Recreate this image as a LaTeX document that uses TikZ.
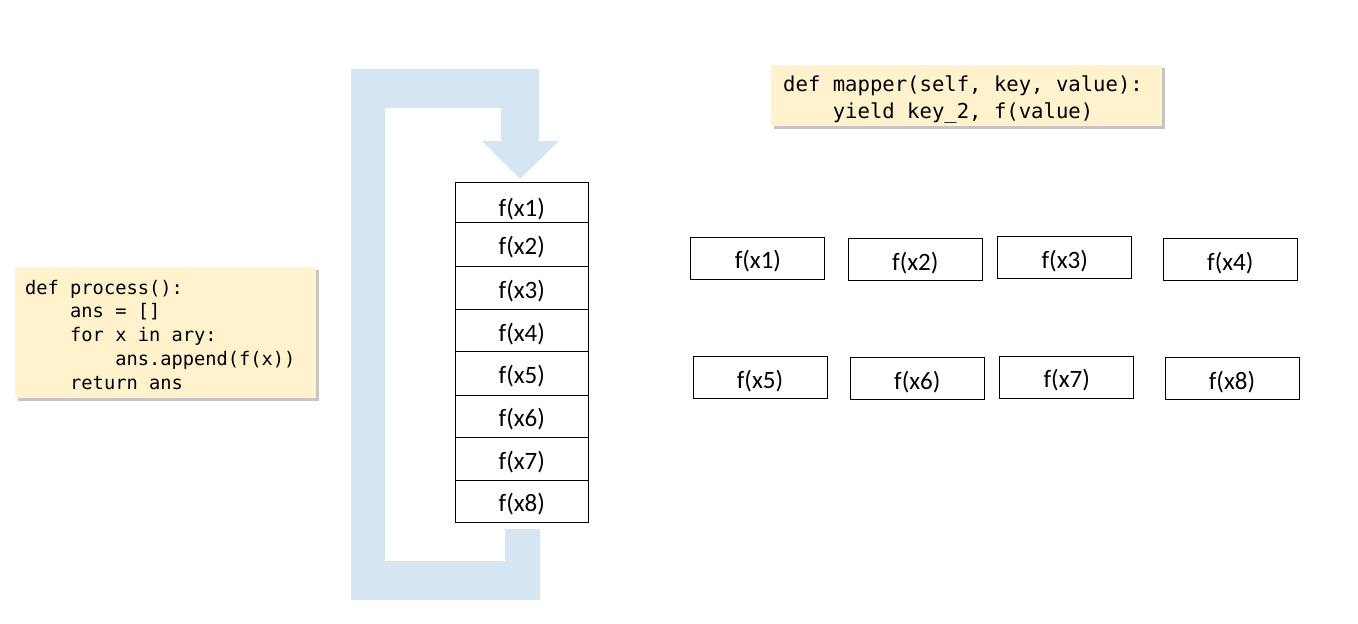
\documentclass[tikz,border=0pt]{standalone}
\usepackage{fontspec}
\setmainfont{Carlito}
\setmonofont{DejaVu Sans Mono}
\usetikzlibrary{shadows}
\definecolor{codefill}{HTML}{FFF2CC}
\definecolor{loopblue}{HTML}{D5E5F2}
\newcommand{\indt}{\phantom{xxxx}}
% monospace with full-width spaces
\newcommand{\codefont}[2]{\ttfamily\fontsize{#1}{#2}\selectfont}
\newcommand{\fixsp}{\spaceskip=\fontcharwd\font`x\relax\xspaceskip=\spaceskip}
\tikzset{
  fbox/.style={draw, line width=1pt, minimum width=134pt, minimum height=42pt,
    inner sep=0pt, text height=21pt, text depth=0pt, font=\fontsize{25}{30}\selectfont},
  codebox/.style={fill=codefill, align=left, inner ysep=0pt, anchor=north west,
    drop shadow={shadow xshift=2.5pt, shadow yshift=-3pt, fill=black!45, opacity=0.5}}
}
\begin{document}
\begin{tikzpicture}[x=1pt, y=-1pt]
    \useasboundingbox (0,0) rectangle (1358,624);

    % loop arrow
    \fill[loopblue] (351,69) -- (539,69) -- (539,141) -- (559,141) -- (520,179)
        -- (482,141) -- (501,141) -- (501,108) -- (385,108) -- (385,561)
        -- (505,561) -- (505,529) -- (540,529) -- (540,600) -- (351,600) -- cycle;

    % sequential code
    \node[codebox, text width=281pt, inner xsep=10pt,
        font=\codefont{18.7}{23.75}] (process) at (15,267)
        {\fixsp\rule{0pt}{27pt}def process():\\ \indt ans = []\\ \indt for x in ary:\\
         \indt\indt ans.append(f(x))\\ \indt return ans\rule[-9pt]{0pt}{0pt}};

    % stack of results
    \foreach \i/\t/\b/\h in {1/182.5/222/28, 2/222/266.7/21, 3/266.7/309.3/21,
        4/309.3/351.7/21, 5/351.7/395/21, 6/395/437.7/21, 7/437.7/480/21, 8/480/522/21}
        \node[fbox, minimum width=133.5pt, minimum height={\b-\t}, text height=\h pt] (s\i)
            at (521.8,{(\t+\b)/2}) {f(x\i)};

    % mapper code
    \node[codebox, text width=367pt, inner xsep=12pt,
        font=\codefont{20.6}{27}] (mapper) at (771,65)
        {\fixsp\rule{0pt}{26.6pt}def mapper(self, key, value):\\
         \indt yield key\_2, f(value)\rule[-7.4pt]{0pt}{0pt}};

    % parallel results
    \foreach \i/\x/\y in {1/757.9/258.3, 2/915.3/259.7, 3/1064.7/257.8, 4/1230.3/259.7,
        5/760/377.9, 6/917.3/378.9, 7/1066.7/377.2, 8/1232/378.7}
        \node[fbox] (m\i) at (\x,\y) {f(x\i)};
\end{tikzpicture}
\end{document}
